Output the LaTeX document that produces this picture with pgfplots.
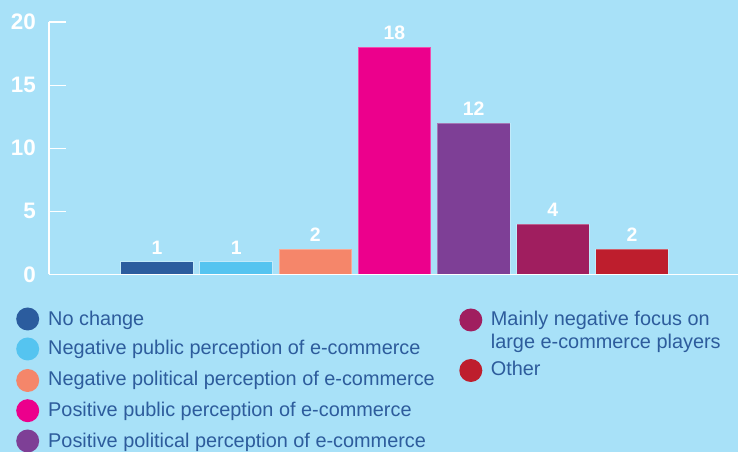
\documentclass[border=0pt]{standalone}
\usepackage{fontspec}
\setmainfont{Liberation Sans}
\usepackage{xcolor}
\usepackage{pgfplots}
\pgfplotsset{compat=1.18}

\definecolor{bgc}{HTML}{A8E1F8}
\definecolor{cA}{HTML}{2B5C9E}
\definecolor{cB}{HTML}{55C4F0}
\definecolor{cC}{HTML}{F5866A}
\definecolor{cD}{HTML}{EC008C}
\definecolor{cE}{HTML}{7E3F96}
\definecolor{cF}{HTML}{A01E5F}
\definecolor{cG}{HTML}{BE1E2D}
\definecolor{legtext}{HTML}{2D5C9C}

\newcommand{\legfont}{\fontsize{19.95}{22.6}\selectfont}

\begin{document}
\begin{tikzpicture}[x=1bp,y=1bp]
\path[use as bounding box, fill=bgc] (0,0) rectangle (738,452);
\begin{axis}[
    at={(49bp,177.5bp)}, anchor=south west,
    scale only axis, width=689bp, height=252.5bp,
    xmin=-0.364, xmax=8.339, ymin=0, ymax=20,
    axis lines=left,
    axis line style={white, line width=1.2bp, -},
    xtick=\empty,
    ytick={0,5,10,15,20},
    tick align=inside,
    major tick length=17bp,
    tick style={white, line width=1.2bp},
    extra y ticks={0},
    extra y tick labels={},
    extra y tick style={grid=major, major grid style={white, line width=1.2bp}},
    /pgf/number format/assume math mode=true,
    yticklabel style={font=\fontsize{22.5}{22.5}\selectfont\bfseries,
        text=white, inner sep=0pt, anchor=east, xshift=-13bp},
    clip=false,
    every axis plot/.append style={ybar, bar shift=0pt, bar width=0.916,
        draw=white, draw opacity=0.3, line width=0.8bp},
    nodes near coords,
    nodes near coords style={font=\fontsize{19.5}{19.5}\selectfont\bfseries,
        text=white, anchor=south, inner sep=0pt, yshift=7bp},
]
\addplot[fill=cA] coordinates {(1,1)};
\addplot[fill=cB] coordinates {(2,1)};
\addplot[fill=cC] coordinates {(3,2)};
\addplot[fill=cD] coordinates {(4,18)};
\addplot[fill=cE] coordinates {(5,12)};
\addplot[fill=cF] coordinates {(6,4)};
\addplot[fill=cG] coordinates {(7,2)};
\end{axis}

% legend, column 1
\fill[cA] (27.7,133) circle (11.5);
\node[anchor=base west, inner sep=0, text=legtext, font=\legfont] at (48,126.3) {No change};
\fill[cB] (27.7,103) circle (11.5);
\node[anchor=base west, inner sep=0, text=legtext, font=\legfont] at (48,97.5) {Negative public perception of e-commerce};
\fill[cC] (27.7,71.5) circle (11.5);
\node[anchor=base west, inner sep=0, text=legtext, font=\legfont] at (48,66) {Negative political perception of e-commerce};
\fill[cD] (27.7,41.3) circle (11.5);
\node[anchor=base west, inner sep=0, text=legtext, font=\legfont] at (48,35.3) {Positive public perception of e-commerce};
\fill[cE] (27.7,11) circle (11.5);
\node[anchor=base west, inner sep=0, text=legtext, font=\legfont] at (48,4.7) {Positive political perception of e-commerce};
% legend, column 2
\fill[cF] (470.8,132) circle (11.5);
\node[anchor=base west, inner sep=0, text=legtext, font=\legfont] at (490.7,126.3) {Mainly negative focus on};
\node[anchor=base west, inner sep=0, text=legtext, font=\legfont] at (490.7,103.7) {large e-commerce players};
\fill[cG] (470.8,81.5) circle (11.5);
\node[anchor=base west, inner sep=0, text=legtext, font=\legfont] at (490.7,76) {Other};
\end{tikzpicture}
\end{document}
